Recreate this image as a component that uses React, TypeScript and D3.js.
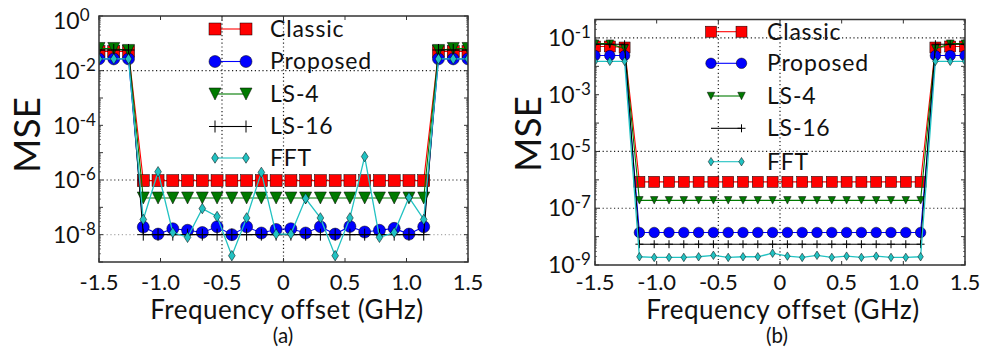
import React from 'react';
import * as d3 from 'd3';

const FONT = "Lato, 'Open Sans', sans-serif";

// Frequency offsets (GHz) of the 26 subcarriers
const freqs = [-1.5, -1.38, -1.26, -1.14, -1.02, -0.9, -0.78, -0.66, -0.54, -0.42, -0.3, -0.18, -0.06,
  0.06, 0.18, 0.3, 0.42, 0.54, 0.66, 0.78, 0.9, 1.02, 1.14, 1.26, 1.38, 1.5];

// Panel (a)
const classicA = [0.05, 0.05, 0.05,
  9.5e-7, 9.5e-7, 9.5e-7, 9.5e-7, 9.5e-7, 9.5e-7, 9.5e-7, 9.5e-7, 9.5e-7, 9.5e-7,
  9.5e-7, 9.5e-7, 9.5e-7, 9.5e-7, 9.5e-7, 9.5e-7, 9.5e-7, 9.5e-7, 9.5e-7, 9.5e-7,
  0.05, 0.05, 0.05];
const proposedA = [0.027, 0.027, 0.027,
  1.9e-8, 1.05e-8, 1.65e-8, 1.45e-8, 1.2e-8, 1.95e-8, 1.0e-8, 1.95e-8, 1.15e-8, 1.55e-8,
  1.65e-8, 1.15e-8, 1.95e-8, 1.05e-8, 2.0e-8, 1.25e-8, 1.45e-8, 1.7e-8, 1.05e-8, 1.95e-8,
  0.027, 0.027, 0.027];
const ls4A = [0.065, 0.065, 0.055,
  2.2e-7, 2.2e-7, 2.2e-7, 2.2e-7, 2.2e-7, 2.2e-7, 2.2e-7, 2.2e-7, 2.2e-7, 2.2e-7,
  2.2e-7, 2.2e-7, 2.2e-7, 2.2e-7, 2.2e-7, 2.2e-7, 2.2e-7, 2.2e-7, 2.2e-7, 2.2e-7,
  0.055, 0.065, 0.065];
const ls16A = [0.057, 0.057, 0.057,
  1.0e-8, 1.0e-8, 1.0e-8, 1.0e-8, 1.0e-8, 1.0e-8, 1.0e-8, 1.0e-8, 1.0e-8, 1.0e-8,
  1.0e-8, 1.0e-8, 1.0e-8, 1.0e-8, 1.0e-8, 1.0e-8, 1.0e-8, 1.0e-8, 1.0e-8, 1.0e-8,
  0.057, 0.057, 0.057];
const fftA = [0.027, 0.027, 0.027,
  3.6e-8, 2.0e-6, 1.2e-8, 8e-9, 9e-8, 4.6e-8, 1.7e-9, 4.1e-8, 1.9e-6, 1.05e-8,
  1.05e-8, 2.1e-7, 4.1e-8, 1.7e-9, 4.1e-8, 7.2e-6, 8e-9, 1.2e-8, 2.3e-7, 3.6e-8,
  0.027, 0.027, 0.027];

// Panel (b)
const classicB = [0.05, 0.05, 0.046,
  8.5e-7, 8.5e-7, 8.5e-7, 8.5e-7, 8.5e-7, 8.5e-7, 8.5e-7, 8.5e-7, 8.5e-7, 8.5e-7,
  8.5e-7, 8.5e-7, 8.5e-7, 8.5e-7, 8.5e-7, 8.5e-7, 8.5e-7, 8.5e-7, 8.5e-7, 8.5e-7,
  0.046, 0.05, 0.05];
const proposedB = [0.024, 0.024, 0.024,
  1.4e-8, 1.4e-8, 1.4e-8, 1.4e-8, 1.4e-8, 1.4e-8, 1.4e-8, 1.4e-8, 1.4e-8, 1.4e-8,
  1.4e-8, 1.4e-8, 1.4e-8, 1.4e-8, 1.4e-8, 1.4e-8, 1.4e-8, 1.4e-8, 1.4e-8, 1.4e-8,
  0.024, 0.024, 0.024];
const ls4B = [0.063, 0.063, 0.042,
  1.9e-7, 1.9e-7, 1.9e-7, 1.9e-7, 1.9e-7, 1.9e-7, 1.9e-7, 1.9e-7, 1.9e-7, 1.9e-7,
  1.9e-7, 1.9e-7, 1.9e-7, 1.9e-7, 1.9e-7, 1.9e-7, 1.9e-7, 1.9e-7, 1.9e-7, 1.9e-7,
  0.042, 0.063, 0.063];
const ls16B = [0.06, 0.06, 0.06,
  5.4e-9, 5.4e-9, 5.4e-9, 5.4e-9, 5.4e-9, 5.4e-9, 5.4e-9, 5.4e-9, 5.4e-9, 5.4e-9,
  5.4e-9, 5.4e-9, 5.4e-9, 5.4e-9, 5.4e-9, 5.4e-9, 5.4e-9, 5.4e-9, 5.4e-9, 5.4e-9,
  0.06, 0.06, 0.06];
const fftB = [0.015, 0.015, 0.015,
  1.95e-9, 1.85e-9, 1.85e-9, 1.85e-9, 1.95e-9, 2.2e-9, 1.85e-9, 1.95e-9, 1.95e-9, 2.6e-9,
  2.05e-9, 1.85e-9, 2.2e-9, 1.85e-9, 2.05e-9, 1.85e-9, 2.05e-9, 1.85e-9, 1.85e-9, 1.95e-9,
  0.015, 0.015, 0.015];

const seriesNames = ['Classic', 'Proposed', 'LS-4', 'LS-16', 'FFT'];
const xTicks = [-1.5, -1.0, -0.5, 0, 0.5, 1.0, 1.5];
const xTickLabels = ['-1.5', '-1.0', '-0.5', '0', '0.5', '1.0', '1.5'];
const yLabelExpA = [0, -2, -4, -6, -8];
const yLabelExpB = [-1, -3, -5, -7, -9];
const xLabel = 'Frequency offset (GHz)';
const yLabel = 'MSE';

type MarkerType = 'square' | 'circle' | 'tri' | 'plus' | 'diamond';
const markers: MarkerType[] = ['square', 'circle', 'tri', 'plus', 'diamond'];
const colors = ['#FF0000', '#0000FF', '#007A00', '#000000', '#22C2C2'];

function Marker({ type, x, y, s, color }: { type: MarkerType; x: number; y: number; s: number; color: string }) {
  const h = s / 2;
  switch (type) {
    case 'square':
      return <rect x={x - h} y={y - h} width={s} height={s} fill={color} stroke="#000" strokeWidth={0.5} />;
    case 'circle':
      return <circle cx={x} cy={y} r={h} fill={color} stroke="#000" strokeWidth={0.5} />;
    case 'tri':
      return <path d={`M${x - h},${y - h}L${x + h},${y - h}L${x},${y + h}Z`} fill={color} stroke="#000" strokeWidth={0.5} />;
    case 'diamond': {
      const w = s * 0.32;
      return <path d={`M${x},${y - h}L${x + w},${y}L${x},${y + h}L${x - w},${y}Z`} fill={color} stroke="#000" strokeWidth={0.5} />;
    }
    case 'plus':
      return <path d={`M${x - h},${y}H${x + h}M${x},${y - h}V${y + h}`} stroke={color} strokeWidth={1} fill="none" />;
  }
  return null;
}

const TICK_BASE = 289.5;
const XLABEL_BASE = 318.5;
const CAPTION_BASE = 342.5;
const YTICK_FS = 23;
const YEXP_FS = 17;
const TEN_WIDTH = YTICK_FS * 1.16; // width of "10" in Lato

type PanelProps = {
  id: string;
  left: number; right: number; top: number; bottom: number;
  yDomain: [number, number];
  data: number[][];
  sizes: number[];
  gridY: { v: number; c: string }[];
  yLabelExp: number[];
  yLabelX: number;
  topLabelShift: number;
  mseX: number; mseY: number;
  legendX1: number; legendX2: number; legendTextX: number; legendYs: number[];
  legendSingle: boolean[];
  caption: string; captionX: number;
  xLabelX: number;
};

function Panel(p: PanelProps) {
  const x = d3.scaleLinear().domain([-1.5, 1.5]).range([p.left, p.right]);
  const y = d3.scaleLog().domain(p.yDomain).range([p.bottom, p.top]);
  const line = d3.line<number>().x((_, i) => x(freqs[i])).y(d => y(d));
  const lo = Math.ceil(Math.log10(p.yDomain[0]) - 1e-9);
  const hi = Math.floor(Math.log10(p.yDomain[1]) + 1e-9);
  const majors: number[] = [];
  const minors: number[] = [];
  for (let e = lo - 1; e <= hi; e++) {
    const v = Math.pow(10, e);
    if (v >= p.yDomain[0] * 0.999 && v <= p.yDomain[1] * 1.001) majors.push(v);
    for (let m = 2; m <= 9; m++) {
      const mv = m * v;
      if (mv > p.yDomain[0] && mv < p.yDomain[1]) minors.push(mv);
    }
  }
  const clipId = `clip-${p.id}`;
  return (
    <g>
      <defs>
        <clipPath id={clipId}>
          <rect x={p.left} y={p.top} width={p.right - p.left} height={p.bottom - p.top} />
        </clipPath>
      </defs>
      <rect x={p.left} y={p.top} width={p.right - p.left} height={p.bottom - p.top} fill="#fff" />
      {/* grid */}
      {p.gridY.map((g, i) => (
        <line key={'gy' + i} x1={p.left} x2={p.right} y1={y(g.v)} y2={y(g.v)} stroke={g.c} strokeWidth={1.2} strokeDasharray="1.2,2.6" />
      ))}
      {[-0.5, 0].map((v, i) => (
        <line key={'gx' + i} x1={x(v)} x2={x(v)} y1={p.top} y2={p.bottom} stroke="#222" strokeWidth={1.2} strokeDasharray="1.2,2.6" />
      ))}
      {/* ticks */}
      {xTicks.map((v, i) => (
        <g key={'xt' + i}>
          <line x1={x(v)} x2={x(v)} y1={p.bottom} y2={p.bottom - 4} stroke="#333" strokeWidth={1} />
          <line x1={x(v)} x2={x(v)} y1={p.top} y2={p.top + 4} stroke="#333" strokeWidth={1} />
        </g>
      ))}
      {majors.map((v, i) => (
        <g key={'ym' + i}>
          <line x1={p.left} x2={p.left + 4} y1={y(v)} y2={y(v)} stroke="#333" strokeWidth={1} />
          <line x1={p.right} x2={p.right - 4} y1={y(v)} y2={y(v)} stroke="#333" strokeWidth={1} />
        </g>
      ))}
      {minors.map((v, i) => (
        <g key={'yn' + i}>
          <line x1={p.left} x2={p.left + 2} y1={y(v)} y2={y(v)} stroke="#555" strokeWidth={0.8} />
          <line x1={p.right} x2={p.right - 2} y1={y(v)} y2={y(v)} stroke="#555" strokeWidth={0.8} />
        </g>
      ))}
      {/* series */}
      <g clipPath={`url(#${clipId})`}>
        {p.data.map((ser, si) => (
          <g key={'s' + si}>
            <path d={line(ser) || ''} fill="none" stroke={colors[si]} strokeWidth={si === 4 ? 1.3 : 1.1} />
            {ser.map((v, i) => (
              <Marker key={i} type={markers[si]} x={x(freqs[i])} y={y(v)} s={p.sizes[si]} color={colors[si]} />
            ))}
          </g>
        ))}
      </g>
      {/* frame */}
      <rect x={p.left} y={p.top} width={p.right - p.left} height={p.bottom - p.top} fill="none" stroke="#333" strokeWidth={1.5} />
      {/* legend */}
      {seriesNames.map((n, si) => {
        const ly = p.legendYs[si];
        return (
          <g key={'lg' + si}>
            <line x1={p.legendX1} x2={p.legendX2} y1={ly} y2={ly} stroke={colors[si]} strokeWidth={1.1} />
            {!p.legendSingle[si] && <Marker type={markers[si]} x={p.legendX1} y={ly} s={p.sizes[si]} color={colors[si]} />}
            <Marker type={markers[si]} x={p.legendX2} y={ly} s={p.sizes[si]} color={colors[si]} />
            <text x={p.legendTextX} y={ly + 7.8} fontFamily={FONT} fontSize={23} letterSpacing={0.8} fill="#111">{n}</text>
          </g>
        );
      })}
      {/* x tick labels */}
      {xTicks.map((v, i) => (
        <text key={'xl' + i} x={x(v)} y={TICK_BASE} textAnchor="middle" fontFamily={FONT} fontSize={22} fill="#111">{xTickLabels[i]}</text>
      ))}
      {/* y tick labels */}
      {p.yLabelExp.map((e, i) => {
        const by = y(Math.pow(10, e)) + 8.2 + (i === 0 ? p.topLabelShift : 0);
        return (
          <g key={'yl' + i}>
            <text x={p.yLabelX} y={by} fontFamily={FONT} fontSize={YTICK_FS} fill="#111">10</text>
            <text x={p.yLabelX + TEN_WIDTH} y={by - 8} fontFamily={FONT} fontSize={YEXP_FS} fill="#111">{String(e)}</text>
          </g>
        );
      })}
      <text x={p.xLabelX} y={XLABEL_BASE} textAnchor="middle" fontFamily={FONT} fontSize={26} letterSpacing={0.5} fill="#111">{xLabel}</text>
      <text transform={`translate(${p.mseX},${p.mseY}) rotate(-90)`} textAnchor="middle" fontFamily={FONT} fontSize={37} fill="#111">{yLabel}</text>
      <text x={p.captionX} y={CAPTION_BASE} textAnchor="middle" fontFamily={FONT} fontSize={20.5} fill="#111">{p.caption}</text>
    </g>
  );
}

export default function App() {
  return (
    <svg width={982} height={362} style={{ position: 'absolute', left: 0, top: 0, background: '#fff' }}>
      <rect x={0} y={0} width={982} height={362} fill="#fff" />
      <Panel
        id="a" left={99} right={468} top={16} bottom={262}
        yDomain={[1e-9, 1]}
        data={[classicA, proposedA, ls4A, ls16A, fftA]}
        sizes={[12, 12, 12, 12, 10.5]}
        gridY={[{ v: 1e-2, c: '#222' }, { v: 1e-6, c: '#222' }, { v: 1e-8, c: '#aaa' }]}
        yLabelExp={yLabelExpA} yLabelX={53} topLabelShift={5}
        mseX={40} mseY={135}
        legendX1={215} legendX2={246} legendTextX={270}
        legendYs={[29, 61.5, 94, 126.5, 158]}
        legendSingle={[false, false, false, false, false]}
        caption="(a)" captionX={283} xLabelX={287}
      />
      <Panel
        id="b" left={595} right={965} top={19.5} bottom={265}
        yDomain={[1e-9, Math.pow(10, -0.35)]}
        data={[classicB, proposedB, ls4B, ls16B, fftB]}
        sizes={[11, 10.5, 7.5, 8, 8.5]}
        gridY={[{ v: 1e-1, c: '#222' }, { v: 1e-5, c: '#222' }, { v: 1e-7, c: '#222' }]}
        yLabelExp={yLabelExpB} yLabelX={548} topLabelShift={0}
        mseX={541} mseY={134}
        legendX1={711} legendX2={741.5} legendTextX={767}
        legendYs={[31.7, 63.3, 96, 128.3, 161.7]}
        legendSingle={[false, false, false, true, false]}
        caption="(b)" captionX={777} xLabelX={783}
      />
    </svg>
  );
}
